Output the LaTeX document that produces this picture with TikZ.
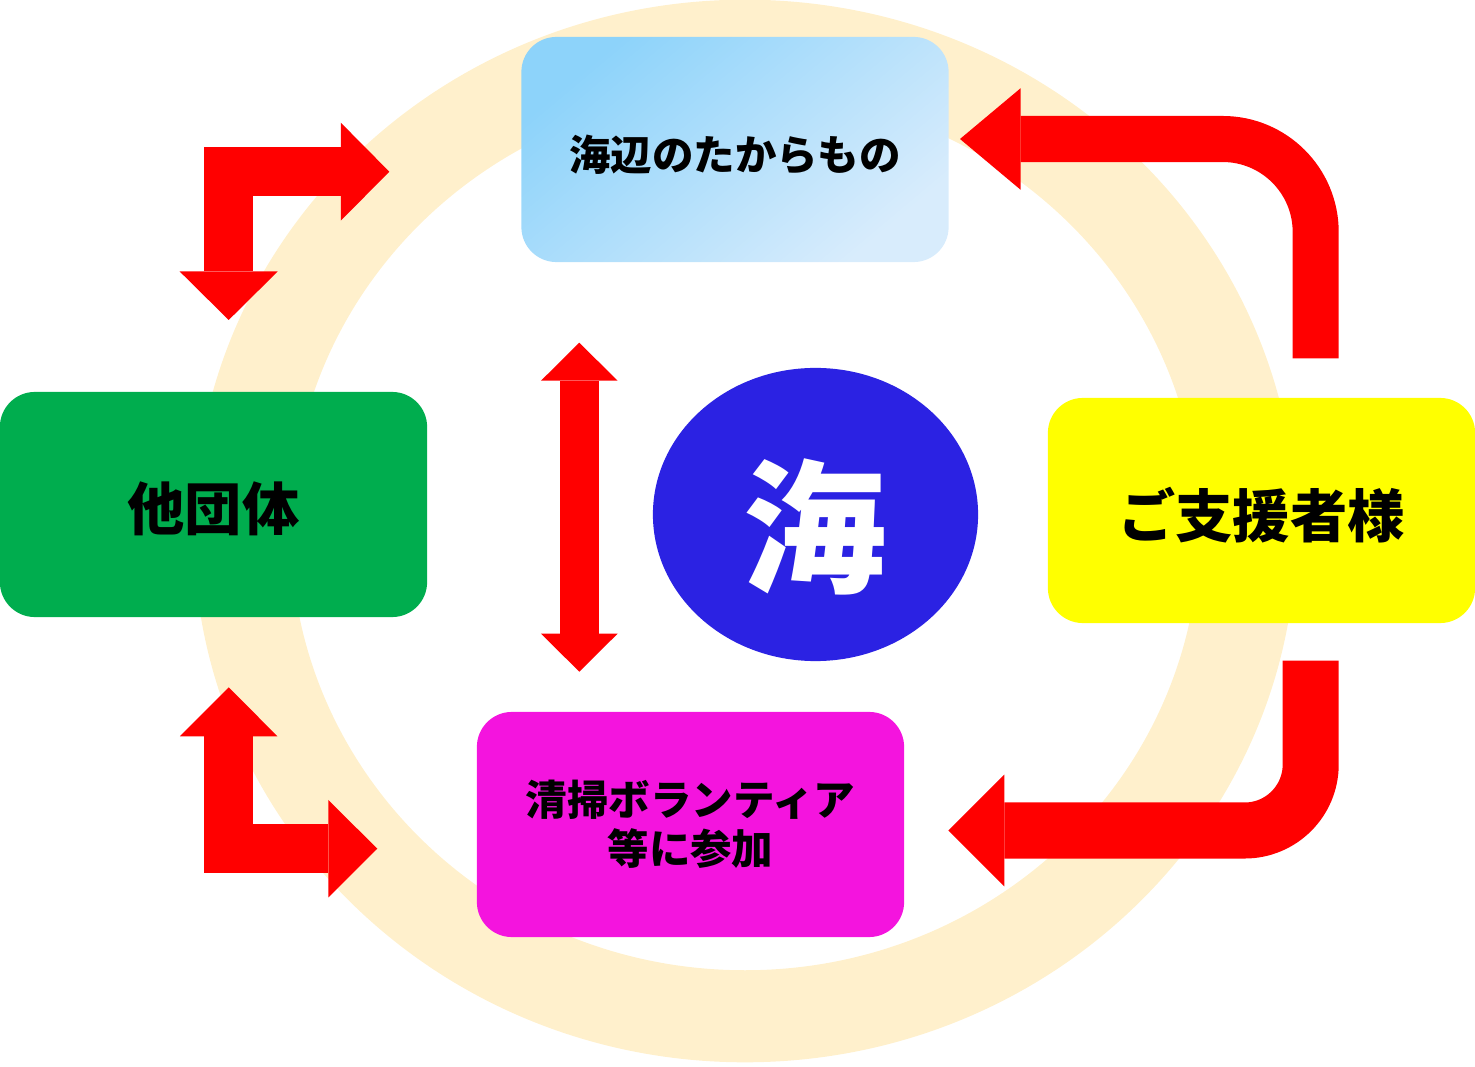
\documentclass[tikz,border=0pt]{standalone}
\usepackage{fontspec}
\setmainfont{Noto Sans CJK JP}
\usetikzlibrary{arrows.meta,shapes.geometric}
\definecolor{ringc}{HTML}{FFF0CC}
\definecolor{sky1}{HTML}{8DD3FA}
\definecolor{sky2}{HTML}{D8ECFC}
\definecolor{grn}{HTML}{00AD4E}
\definecolor{ylw}{HTML}{FFFF00}
\definecolor{mag}{HTML}{F414DE}
\definecolor{seablue}{HTML}{2B22E3}
\newcommand{\lowered}[2]{\raisebox{-#1}[\height][\depth]{#2}}
\tikzset{
  box/.style={rectangle, rounded corners=0.35cm, minimum width=4.27cm, minimum height=2.25cm, inner sep=0pt, align=center},
  smalltext/.style={font=\fontsize{11.8}{13.9}\selectfont\bfseries},
  bigtext/.style={font=\fontsize{16.3}{19}\selectfont\bfseries},
  redarrow/.style={draw=red, line join=miter},
}

\begin{document}
\begin{tikzpicture}[x=0.01cm, y=-0.01cm]
\useasboundingbox (0,0) rectangle (1475,1067);
\fill[ringc, even odd rule] (745,531) ellipse [x radius=5.51cm, y radius=5.31cm]
  (745,531) ellipse [x radius=4.54cm, y radius=4.39cm];

\node[box, smalltext, top color=sky1, bottom color=sky2, shading angle=40] (treasure) at (735,149.5) {\lowered{0.05cm}{海辺のたからもの}};
\node[box, bigtext, fill=grn] (others) at (213.5,504.5) {\lowered{0.045cm}{他団体}};
\node[box, bigtext, fill=ylw] (supporters) at (1261.5,510.5) {\lowered{0.045cm}{ご支援者様}};
\node[box, smalltext, fill=mag] (cleanup) at (690.5,824.5) {清掃ボランティア\\等に参加};
\node[ellipse, fill=seablue, minimum width=3.25cm, minimum height=2.93cm, inner sep=0pt,
  text=white, font=\fontsize{40.8}{48}\selectfont\bfseries] (sea) at (815.5,514.5) {\lowered{0.12cm}{海}};

\coordinate (tlD) at (228.7,320);
\coordinate (tlC) at (228.7,171.7);
\coordinate (tlR) at (389.3,171.7);
\draw[redarrow, line width=0.495cm, {Triangle[length=0.485cm,width=0.98cm,line width=0pt]}-{Triangle[length=0.485cm,width=0.98cm,line width=0pt]}] (tlD) -- (tlC) -- (tlR);

\coordinate (blU) at (228.7,687.3);
\coordinate (blC) at (228.7,848.7);
\coordinate (blR) at (377.3,848.7);
\draw[redarrow, line width=0.493cm, {Triangle[length=0.49cm,width=0.975cm,line width=0pt]}-{Triangle[length=0.49cm,width=0.975cm,line width=0pt]}] (blU) -- (blC) -- (blR);

\coordinate (trS) at (1315.7,358.3);
\coordinate (trC) at (1315.7,139);
\coordinate (trE) at (960,139);
\draw[redarrow, line width=0.46cm, rounded corners=0.93cm, -{Triangle[length=0.607cm,width=1.017cm,line width=0pt]}] (trS) -- (trC) -- (trE);

\coordinate (brS) at (1310.7,660.7);
\coordinate (brC) at (1310.7,830.5);
\coordinate (brE) at (948.3,830.5);
\draw[redarrow, line width=0.56cm, rounded corners=0.66cm, -{Triangle[length=0.56cm,width=1.117cm,line width=0pt]}] (brS) -- (brC) -- (brE);

\coordinate (vT) at (579.3,342.7);
\coordinate (vB) at (579.3,671.7);
\draw[redarrow, line width=0.387cm, {Triangle[length=0.38cm,width=0.766cm,line width=0pt]}-{Triangle[length=0.38cm,width=0.766cm,line width=0pt]}] (vT) -- (vB);
\end{tikzpicture}
\end{document}
